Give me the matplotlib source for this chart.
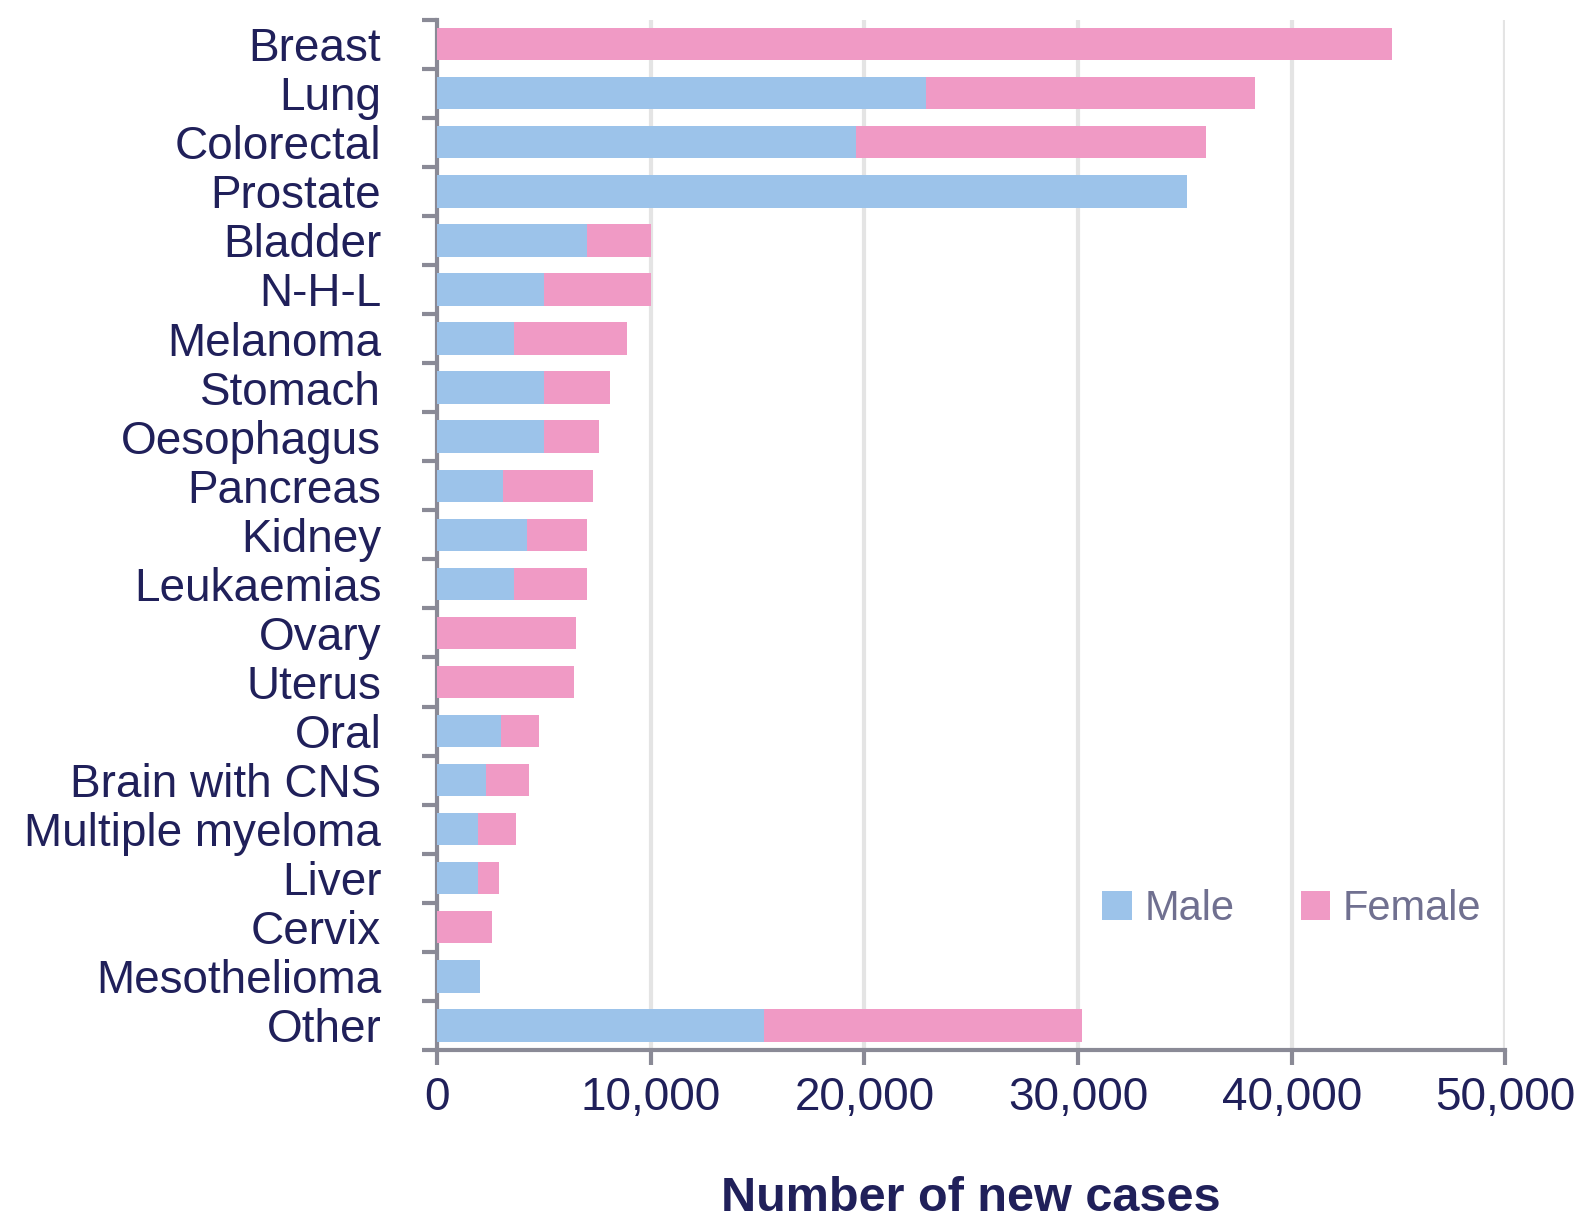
import numpy as np
import matplotlib
matplotlib.use("Agg")
import matplotlib.pyplot as plt

# New cancer cases by site
sites = ["Breast", "Lung", "Colorectal", "Prostate", "Bladder", "N-H-L",
         "Melanoma", "Stomach", "Oesophagus", "Pancreas", "Kidney",
         "Leukaemias", "Ovary", "Uterus", "Oral", "Brain with CNS",
         "Multiple myeloma", "Liver", "Cervix", "Mesothelioma", "Other"]
male = [0, 22900, 19600, 35100, 7000, 5000, 3600, 5000, 5000, 3100, 4200,
        3600, 0, 0, 3000, 2300, 1900, 1900, 0, 2000, 15300]
female = [44700, 15400, 16400, 0, 3000, 5000, 5300, 3100, 2600, 4200, 2800,
          3400, 6500, 6400, 1800, 2000, 1800, 1000, 2600, 0, 14900]

male_col = "#9cc3ea"
female_col = "#f09ac5"
text_col = "#20205a"

plt.rcParams['font.family'] = ['Liberation Sans', 'DejaVu Sans']

fig = plt.figure(figsize=(15.83, 12.26), dpi=100)
ax = fig.add_axes([0.276, 0.1436, 0.675, 0.8404])

y = np.arange(len(sites))
ax.barh(y, male, height=0.66, color=male_col, label="Male", zorder=3)
ax.barh(y, female, left=male, height=0.66, color=female_col, label="Female", zorder=3)

ax.set_xlim(0, 50000)
ax.set_ylim(len(sites) - 0.5, -0.5)
ax.set_xticks(np.arange(0, 50001, 10000))
ax.set_xticklabels([f"{v:,}" for v in range(0, 50001, 10000)])
ax.set_yticks(y)
ax.set_yticklabels(sites)
ax.set_yticks(np.arange(-0.5, len(sites), 1), minor=True)

ax.grid(axis="x", color="#e4e4e4", linewidth=3, zorder=0)
for s in ["top", "right"]:
    ax.spines[s].set_visible(False)
for s in ["left", "bottom"]:
    ax.spines[s].set_color("#8a8a96")
    ax.spines[s].set_linewidth(3)

ax.tick_params(axis="y", which="major", length=0, pad=40, labelsize=33, labelcolor=text_col)
ax.tick_params(axis="y", which="minor", length=11, width=3, color="#8a8a96")
ax.tick_params(axis="x", which="major", length=11, width=3, color="#8a8a96",
               pad=8, labelsize=33, labelcolor=text_col)

ax.set_xlabel("Number of new cases", fontsize=35, fontweight="bold", color=text_col, labelpad=40)

leg = ax.legend(loc="center", bbox_to_anchor=(0.8, 0.137), ncol=2, frameon=False,
                fontsize=30, handlelength=0.7, handleheight=0.7, handletextpad=0.3,
                columnspacing=1.6, labelcolor="#707090")

fig.savefig("out.png", dpi=100)
